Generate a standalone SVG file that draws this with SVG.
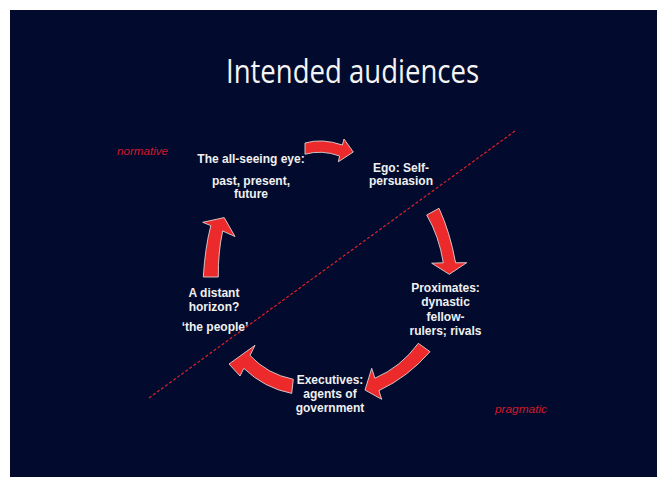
<svg xmlns="http://www.w3.org/2000/svg" width="657" height="477" viewBox="0 0 657 477">
  <style>
    .slide { fill: #020b2d; }
    .title { font-family: "Open Sans", "Liberation Sans", sans-serif; font-size: 32px; fill: #f4f4f4; }
    .label { font-family: "Liberation Sans", Arial, sans-serif; font-weight: bold; font-size: 12px; fill: #f0f0f0; text-anchor: middle; }
    .zone { font-family: "Liberation Sans", Arial, sans-serif; font-style: italic; font-size: 11.5px; fill: #d3172c; }
    .divider { stroke: #e1202c; stroke-width: 1.2; stroke-dasharray: 3 2; fill: none; }
    .arrow { fill: #ec2a2c; stroke: #dcd2d2; stroke-width: 0.9; stroke-linejoin: miter; }
  </style>

  <!-- page margin and slide -->
  <rect x="0" y="0" width="657" height="477" fill="#ffffff"/>
  <rect class="slide" x="10" y="10" width="647" height="467"/>

  <text class="title" x="352.5" y="83" text-anchor="middle" textLength="253" lengthAdjust="spacingAndGlyphs">Intended audiences</text>

  <!-- normative / pragmatic divide -->
  <line class="divider" x1="149" y1="398" x2="515" y2="131"/>
  <text class="zone" x="117" y="155" textLength="51" lengthAdjust="spacingAndGlyphs">normative</text>
  <text class="zone" x="495" y="413" textLength="52" lengthAdjust="spacingAndGlyphs">pragmatic</text>

  <!-- cycle arrows -->
  <g id="connectors">
    <path class="arrow" d="M305,143 Q322,138 342.4,145 L344,139 L353.3,152 L338.3,161.8 L339.6,156 Q322,149.5 305,154.2 Z"/>
    <path class="arrow" d="M426.7,215 Q439,236 443.3,262.8 L431.7,263.2 L449.3,274.3 L466.7,262.7 L455.6,262.8 Q450,232 439,208.3 Z"/>
    <path class="arrow" d="M418.3,343.3 Q401,367 374.9,378.2 L371.7,368.3 L365,390 L381.7,399.3 L378.9,390.6 Q408,377 430,351.7 Z"/>
    <path class="arrow" d="M293.3,379.3 Q267,374 250,355.4 L255,345.3 L229,364 L240,376 L243.8,368.3 Q264,388 291.7,393.4 Z"/>
    <path class="arrow" d="M203.3,277 Q205,248 210.8,225.6 L202.7,222.3 L224.2,217.6 L235,236.5 L222.7,231 Q218,252 218.3,277 Z"/>
  </g>

  <g id="node-eye">
    <text class="label" x="251" y="163">The all-seeing eye:</text>
    <text class="label" x="251" y="185">past, present,</text>
    <text class="label" x="251" y="198">future</text>
  </g>

  <g id="node-ego">
    <text class="label" x="401" y="172">Ego: Self-</text>
    <text class="label" x="401" y="185">persuasion</text>
  </g>

  <g id="node-proximates">
    <text class="label" x="445.5" y="291.5">Proximates:</text>
    <text class="label" x="445.5" y="306">dynastic</text>
    <text class="label" x="445.5" y="320.5">fellow-</text>
    <text class="label" x="445.5" y="335">rulers; rivals</text>
  </g>

  <g id="node-executives">
    <text class="label" x="330" y="384">Executives:</text>
    <text class="label" x="330" y="398">agents of</text>
    <text class="label" x="330" y="412">government</text>
  </g>

  <g id="node-horizon">
    <text class="label" x="214" y="296.5">A distant</text>
    <text class="label" x="214" y="311">horizon?</text>
    <text class="label" x="215" y="331">‘the people’</text>
  </g>
</svg>
